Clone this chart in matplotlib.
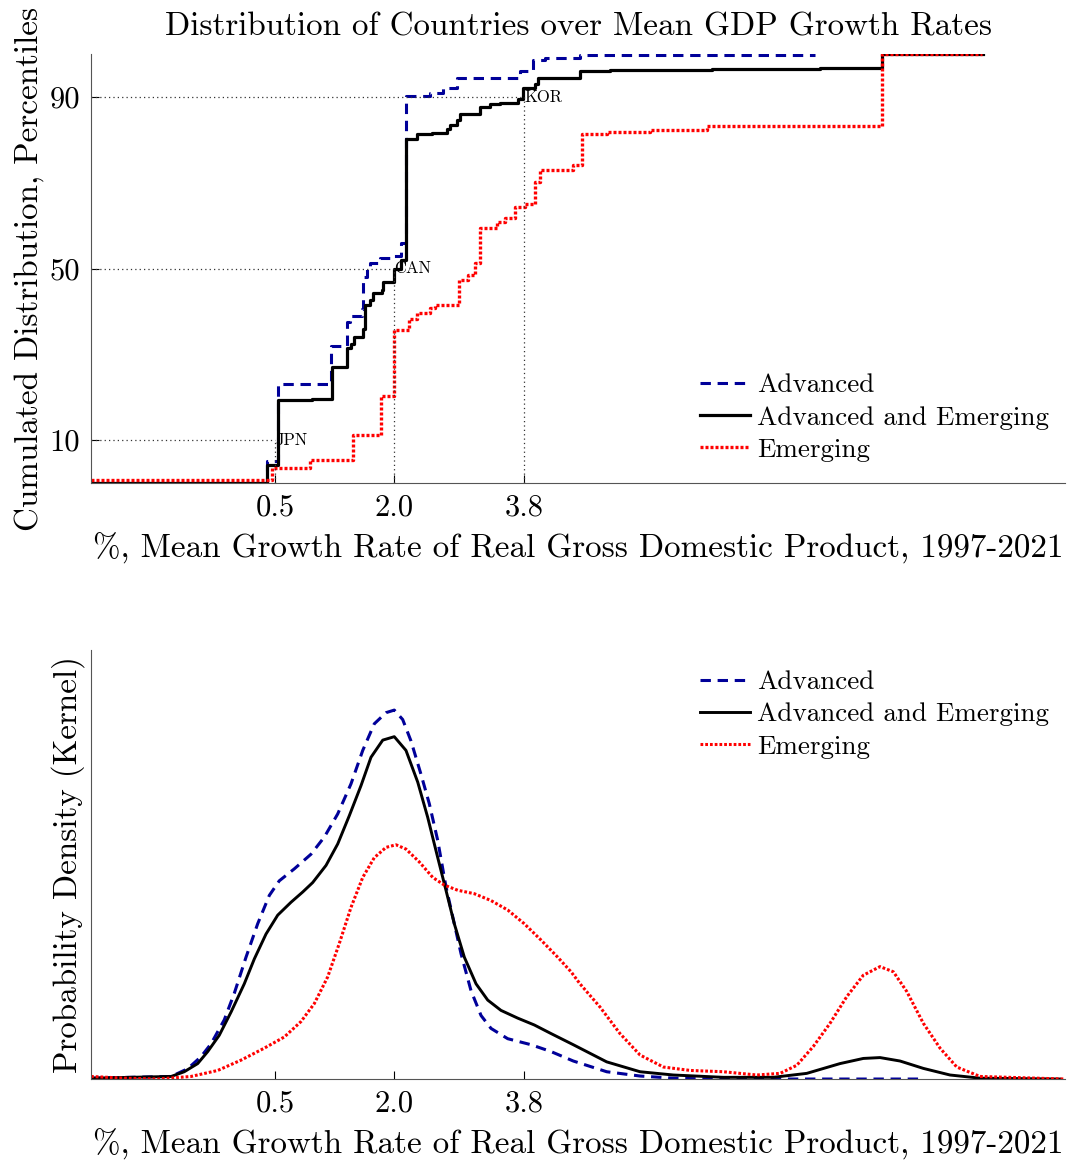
import numpy as np
import matplotlib
matplotlib.use("Agg")
import matplotlib.pyplot as plt

plt.rcParams['font.family'] = ['cmr10', 'DejaVu Serif']
plt.rcParams['axes.formatter.use_mathtext'] = True
plt.rcParams['axes.unicode_minus'] = False

# ---------------------------------------------------------------
# empirical distributions (percentiles), step levels
# ---------------------------------------------------------------
adv_x = [-2.00, 0.345, 0.492, 1.203, 1.413, 1.457, 1.617, 1.635, 1.680, 1.724,
         1.857, 2.017, 2.134, 2.200, 2.525, 2.702, 2.881, 3.726, 3.903, 4.060,
         4.527, 7.663]
adv_y = [0.0, 5.1, 23.2, 32.0, 37.5, 39.0, 40.5, 48.0, 50.5, 51.3,
         52.5, 53.0, 56.0, 90.2, 91.0, 92.0, 94.5, 96.0, 98.6, 99.1,
         99.7, 99.7]

all_x = [-2.00, 0.345, 0.492, 0.946, 1.213, 1.421, 1.466, 1.514, 1.635, 1.657,
         1.724, 1.768, 1.880, 1.902, 2.040, 2.134, 2.200, 2.347, 2.548, 2.748,
         2.792, 2.881, 2.925, 3.192, 3.326, 3.459, 3.703, 3.770, 3.926, 3.970,
         4.527, 4.927, 6.285, 7.303, 7.730, 8.554, 9.910]
all_y = [0.0, 4.2, 19.3, 19.7, 27.0, 31.4, 32.3, 34.0, 35.9, 41.5,
         42.7, 44.2, 45.0, 46.8, 50.0, 52.0, 80.2, 81.3, 81.7, 82.6,
         83.4, 84.6, 86.0, 87.7, 88.3, 88.7, 89.5, 92.0, 93.1, 94.3,
         96.0, 96.2, 96.4, 96.6, 96.7, 100.0, 100.0]

emg_x = [-2.00, 0.412, 0.923, 1.501, 1.871, 2.048, 2.249, 2.347, 2.525, 2.592,
         2.916, 3.036, 3.126, 3.192, 3.415, 3.526, 3.659, 3.793, 3.926, 3.993,
         4.438, 4.550, 4.883, 5.461, 6.218, 8.554, 9.890]
emg_y = [0.6, 3.4, 5.4, 11.2, 20.4, 35.7, 38.2, 39.6, 40.7, 41.6,
         47.3, 48.5, 51.2, 59.4, 60.9, 61.7, 64.4, 65.0, 70.2, 73.0,
         74.1, 81.4, 81.9, 82.3, 83.2, 100.0, 100.0]

# marked countries: 10th, 50th and 90th percentile
ref_codes = ['JPN', 'CAN', 'KOR']
ref_x = [0.456, 2.040, 3.779]
ref_pct = [10, 50, 90]

# ---------------------------------------------------------------
# kernel densities
# ---------------------------------------------------------------
kde_adv_x = [-2.00, -0.93, -0.709, -0.532, -0.398, -0.221, -0.087, 0.069, 0.225, 0.380,
             0.513, 0.714, 0.936, 1.114, 1.293, 1.470, 1.627, 1.781, 1.938, 2.048,
             2.160, 2.271, 2.405, 2.515, 2.628, 2.738, 2.849, 2.939, 3.072, 3.206,
             3.339, 3.562, 3.873, 4.140, 4.437, 4.883, 5.328, 5.772, 6.262, 9.088]
kde_adv_y = [0.001, 0.003, 0.012, 0.026, 0.041, 0.069, 0.100, 0.142, 0.181, 0.214,
             0.231, 0.245, 0.262, 0.282, 0.309, 0.344, 0.383, 0.414, 0.427, 0.430,
             0.419, 0.394, 0.355, 0.321, 0.278, 0.224, 0.181, 0.146, 0.103, 0.074,
             0.059, 0.047, 0.040, 0.032, 0.021, 0.0085, 0.0035, 0.001, 0.0, 0.0]

kde_all_x = [-2.00, -0.93, -0.755, -0.576, -0.442, -0.288, -0.131, 0.046, 0.180, 0.336,
             0.492, 0.669, 0.826, 0.959, 1.137, 1.293, 1.448, 1.604, 1.737, 1.894,
             2.048, 2.204, 2.361, 2.494, 2.628, 2.738, 2.849, 2.983, 3.139, 3.295,
             3.472, 3.695, 3.917, 4.140, 4.437, 4.883, 5.328, 5.772, 6.440, 7.107,
             7.553, 7.997, 8.308, 8.531, 8.798, 9.109, 9.465, 9.866, 10.93]
kde_all_y = [0.001, 0.003, 0.0085, 0.018, 0.032, 0.051, 0.078, 0.111, 0.140, 0.169,
             0.191, 0.206, 0.218, 0.229, 0.249, 0.274, 0.307, 0.342, 0.375, 0.395,
             0.399, 0.383, 0.346, 0.305, 0.258, 0.220, 0.181, 0.142, 0.111, 0.092,
             0.080, 0.071, 0.063, 0.053, 0.040, 0.020, 0.0085, 0.0047, 0.002, 0.002,
             0.0066, 0.018, 0.024, 0.025, 0.021, 0.0124, 0.0047, 0.001, 0.0]

kde_emg_x = [-2.00, -1.556, -1.110, -0.665, -0.309, 0.002, 0.313, 0.580, 0.803, 0.981,
             1.159, 1.314, 1.470, 1.627, 1.781, 1.938, 2.071, 2.204, 2.382, 2.561,
             2.716, 2.895, 3.116, 3.339, 3.562, 3.783, 4.006, 4.229, 4.407, 4.526,
             4.793, 5.060, 5.328, 5.639, 5.999, 6.440, 6.886, 7.197, 7.420, 7.641,
             7.864, 8.087, 8.308, 8.531, 8.709, 8.888, 9.109, 9.332, 9.555, 9.866,
             11.0]
kde_emg_y = [0.003, 0.001, 0.0, 0.003, 0.010, 0.022, 0.036, 0.049, 0.067, 0.088,
             0.119, 0.158, 0.200, 0.235, 0.258, 0.270, 0.273, 0.268, 0.253, 0.235,
             0.226, 0.220, 0.216, 0.208, 0.197, 0.181, 0.162, 0.142, 0.125, 0.111,
             0.084, 0.053, 0.028, 0.014, 0.010, 0.0085, 0.0047, 0.0066, 0.016, 0.038,
             0.065, 0.096, 0.121, 0.131, 0.125, 0.102, 0.065, 0.036, 0.014, 0.003,
             0.0]

labels = ['Advanced', 'Advanced and Emerging', 'Emerging']
NAVY = '#000099'
FS = 23.8        # title / axis labels
FS_TICK = 22
FS_LEG = 19.5
XLABEL = '%, Mean Growth Rate of Real Gross Domestic Product, 1997-2021'

fig = plt.figure(figsize=(10.68, 11.62), dpi=100)
ax1 = fig.add_axes([0.0852, 0.5843, 0.912, 0.3692])
ax2 = fig.add_axes([0.0852, 0.0714, 0.912, 0.3692])

leg_kw = dict(loc='upper left', frameon=False, fontsize=FS_LEG,
              handlelength=1.85, handletextpad=0.26, labelspacing=0.31,
              borderaxespad=0, borderpad=0)

# --- top: cumulated distribution ---
ax1.plot(adv_x, adv_y, drawstyle='steps-post', color=NAVY, lw=2.2,
         dashes=(3.4, 2.2), label=labels[0])
ax1.plot(all_x, all_y, drawstyle='steps-post', color='black', lw=2.3,
         label=labels[1])
ax1.plot(emg_x, emg_y, drawstyle='steps-post', color='red', lw=2.4,
         dashes=(0.9, 0.6), label=labels[2])

for code, xr, pr in zip(ref_codes, ref_x, ref_pct):
    ax1.plot([-2, xr], [pr, pr], color='#333333', ls=(0, (1, 2.5)), lw=0.9)
    ax1.plot([xr, xr], [0, pr], color='#333333', ls=(0, (1, 2.5)), lw=0.9)
    ax1.text(xr, pr, code, fontsize=12, ha='left', va='center')

ax1.set_xlim(-2, 11)
ax1.set_ylim(0, 100)
ax1.set_yticks(ref_pct)
ax1.set_yticklabels([str(p) for p in ref_pct])
ax1.set_title('Distribution of Countries over Mean GDP Growth Rates',
              fontsize=FS, pad=13.5)
ax1.set_ylabel('Cumulated Distribution, Percentiles', fontsize=FS)
ax1.legend(bbox_to_anchor=(0.625, 0.256), **leg_kw)

# --- bottom: kernel density ---
ax2.plot(kde_adv_x, kde_adv_y, color=NAVY, lw=2.2, dashes=(3.4, 2.2),
         label=labels[0])
ax2.plot(kde_all_x, kde_all_y, color='black', lw=2.1, label=labels[1])
ax2.plot(kde_emg_x, kde_emg_y, color='red', lw=2.2, dashes=(0.9, 0.65),
         label=labels[2])
ax2.set_xlim(-2, 11)
ax2.set_ylim(0, 0.5)
ax2.set_yticks([])
ax2.set_ylabel('Probability Density (Kernel)', fontsize=FS)
ax2.legend(bbox_to_anchor=(0.625, 0.953), **leg_kw)

for ax in (ax1, ax2):
    ax.set_xticks(ref_x)
    ax.set_xticklabels([f'{v:.1f}' for v in ref_x])
    ax.set_xlabel(XLABEL, fontsize=FS, labelpad=8)
    ax.tick_params(direction='in', length=6, width=0.8, labelsize=FS_TICK, pad=8)
    for side in ('top', 'right'):
        ax.spines[side].set_visible(False)
    for side in ('left', 'bottom'):
        ax.spines[side].set_color('#555555')
        ax.spines[side].set_linewidth(0.8)

fig.savefig('out.png', dpi=100)
